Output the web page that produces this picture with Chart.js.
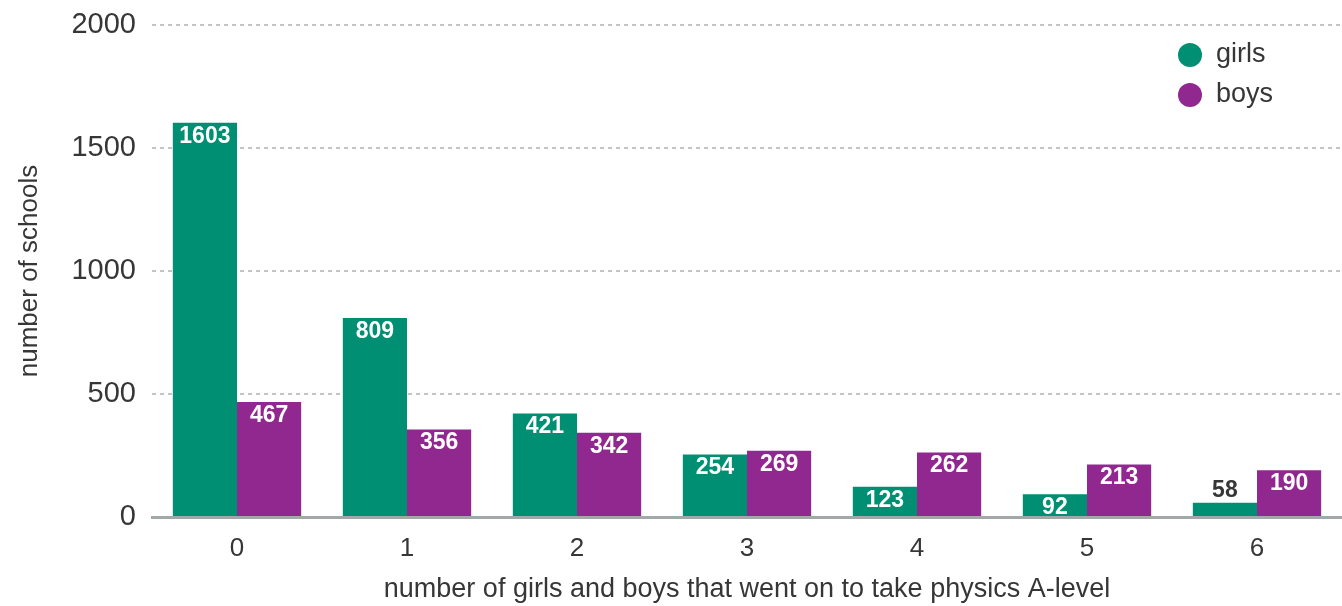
<!DOCTYPE html>
<html>
<head>
<meta charset="utf-8">
<script src="https://cdn.jsdelivr.net/npm/chart.js@4.4.1/dist/chart.umd.min.js"></script>
<style>
  body { margin: 0; background: #fff; }
  .chartBox { width: 1342px; height: 606px; position: relative; }
</style>
</head>
<body>
<div class="chartBox">
  <canvas id="grafica"></canvas>
</div>
<script>
// datos
const categorias = ['0', '1', '2', '3', '4', '5', '6'];
const girls = [1603, 809, 421, 254, 123, 92, 58];
const boys = [467, 356, 342, 269, 262, 213, 190];
const ticksY = [0, 500, 1000, 1500, 2000];

const verde = '#008f72';
const morado = '#912890';
const textoOscuro = '#363636';
const fuente = '"Liberation Sans", Arial, sans-serif';

// etiquetas con el valor dentro de cada barra
const etiquetasBarras = {
  id: 'etiquetasBarras',
  afterDatasetsDraw(chart) {
    const ctx = chart.ctx;
    ctx.save();
    ctx.font = 'bold 23px ' + fuente;
    ctx.textAlign = 'center';
    chart.data.datasets.forEach((ds, i) => {
      const meta = chart.getDatasetMeta(i);
      meta.data.forEach((bar, j) => {
        const alto = bar.base - bar.y;
        if (alto >= 18) {
          ctx.fillStyle = '#ffffff';
          ctx.textBaseline = 'top';
          ctx.fillText(ds.data[j], bar.x, bar.y + 2);
        } else {
          ctx.fillStyle = textoOscuro;
          ctx.textBaseline = 'bottom';
          ctx.fillText(ds.data[j], bar.x, bar.y - 1);
        }
      });
    });
    ctx.restore();
  }
};

// leyenda vertical arriba a la derecha
const leyenda = {
  id: 'leyendaVertical',
  afterDraw(chart) {
    const ctx = chart.ctx;
    ctx.save();
    ctx.font = '27px ' + fuente;
    ctx.textBaseline = 'middle';
    ctx.textAlign = 'left';
    chart.data.datasets.forEach((ds, i) => {
      const y = 55 + i * 40;
      ctx.beginPath();
      ctx.arc(1190, y, 12, 0, Math.PI * 2);
      ctx.fillStyle = ds.backgroundColor;
      ctx.fill();
      ctx.fillStyle = textoOscuro;
      ctx.fillText(ds.label, 1216, y);
    });
    ctx.restore();
  }
};

new Chart(document.getElementById('grafica').getContext('2d'), {
  type: 'bar',
  data: {
    labels: categorias,
    datasets: [{
      label: 'girls',
      data: girls,
      backgroundColor: verde,
      categoryPercentage: 0.755,
      barPercentage: 1
    }, {
      label: 'boys',
      data: boys,
      backgroundColor: morado,
      categoryPercentage: 0.755,
      barPercentage: 1
    }]
  },
  options: {
    responsive: true,
    maintainAspectRatio: false,
    animation: false,
    layout: { padding: { top: 25, right: 0, left: 0, bottom: 0 } },
    plugins: {
      legend: { display: false },
      tooltip: { enabled: false }
    },
    scales: {
      x: {
        grid: { display: false },
        border: { display: true, color: '#a2a7a7', width: 3 },
        ticks: {
          color: textoOscuro,
          font: { size: 26, family: fuente },
          padding: 8
        },
        title: {
          display: true,
          text: 'number of girls and boys that went on to take physics A-level',
          color: textoOscuro,
          font: { size: 27, family: fuente },
          padding: { top: 0, bottom: 0 }
        },
        afterFit(scale) { scale.height = 89; }
      },
      y: {
        min: 0,
        max: 2000,
        afterBuildTicks(scale) { scale.ticks = ticksY.map(v => ({ value: v })); },
        grid: {
          color: c => c.tick && c.tick.value === 0 ? 'rgba(0,0,0,0)' : '#c4c4c4',
          lineWidth: 2,
          drawTicks: false
        },
        border: { display: false, dash: [4, 4] },
        ticks: {
          color: textoOscuro,
          font: { size: 29, family: fuente },
          padding: 16,
          callback: v => String(v)
        },
        title: {
          display: true,
          text: 'number of schools',
          color: textoOscuro,
          font: { size: 26, family: fuente },
          padding: { top: 14, bottom: 0 }
        },
        afterFit(scale) {
          scale.width = 152;
          scale.paddingTop = 0;
          scale.paddingBottom = 0;
        }
      }
    }
  },
  plugins: [etiquetasBarras, leyenda]
});
</script>
</body>
</html>
